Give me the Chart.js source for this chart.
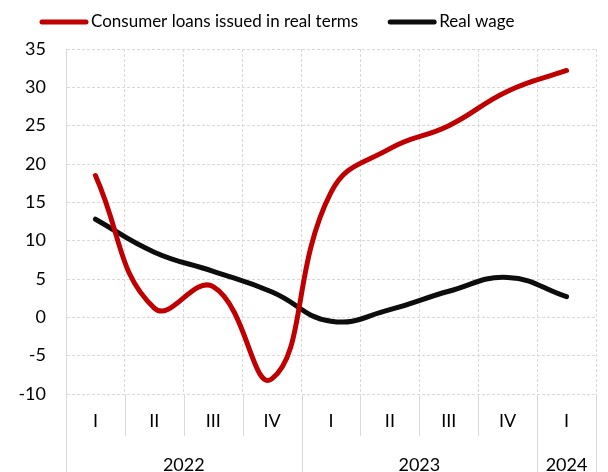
<!DOCTYPE html>
<html>
<head>
<meta charset="utf-8">
<script src="https://cdn.jsdelivr.net/npm/chart.js@4.4.1/dist/chart.umd.min.js"></script>
<style>
  html, body { margin: 0; padding: 0; background: #ffffff; }
  #wrap { width: 608px; height: 472px; }
</style>
</head>
<body>
<div id="wrap"><canvas id="chart" width="608" height="472"></canvas></div>
<script>
// Quarter labels and the year each quarter belongs to
const quarters = ['I', 'II', 'III', 'IV', 'I', 'II', 'III', 'IV', 'I'];
const years = ['2022', '2022', '2022', '2022', '2023', '2023', '2023', '2023', '2024'];

// Year-on-year change, %
const consumerLoans = [18.5, 1.2, 4.0, -8.0, 16.3, 22.0, 25.0, 29.5, 32.2];
const realWage = [12.8, 8.5, 6.0, 3.3, -0.5, 1.0, 3.4, 5.2, 2.7];

const seriesNames = ['Consumer loans issued in real terms', 'Real wage'];
const seriesColors = ['#c00000', '#0d0d0d'];

const FONT = 'Lato, "Liberation Sans", sans-serif';
const GRID = '#d9d9d9';

// Legend row drawn above the plot
const legendRow = {
  id: 'legendRow',
  afterDraw(chart) {
    const ctx = chart.ctx;
    ctx.save();
    ctx.font = '17px ' + FONT;
    ctx.textBaseline = 'middle';
    ctx.lineCap = 'round';
    ctx.lineWidth = 5;
    const y = 22;
    let x = 42;
    chart.data.datasets.forEach((ds) => {
      ctx.strokeStyle = ds.borderColor;
      ctx.beginPath();
      ctx.moveTo(x, y);
      ctx.lineTo(x + 44, y);
      ctx.stroke();
      ctx.fillStyle = '#000';
      ctx.fillText(ds.label, x + 49, y);
      x += 49 + ctx.measureText(ds.label).width + 32;
    });
    ctx.restore();
  }
};

// Quarter dividers below the plot and the year row
const yearRow = {
  id: 'yearRow',
  afterDraw(chart) {
    const xs = chart.scales.x;
    const area = chart.chartArea;
    const ctx = chart.ctx;
    const half = (xs.getPixelForValue(1) - xs.getPixelForValue(0)) / 2;
    ctx.save();
    ctx.strokeStyle = GRID;
    ctx.lineWidth = 1;
    for (let i = 0; i <= quarters.length; i++) {
      const x = Math.round(xs.getPixelForValue(i) - half) + 0.5;
      const yearEdge = i === 0 || i === quarters.length || years[i] !== years[i - 1];
      ctx.beginPath();
      ctx.moveTo(x, area.bottom);
      ctx.lineTo(x, yearEdge ? chart.height : area.bottom + 42);
      ctx.stroke();
    }
    ctx.fillStyle = '#000';
    ctx.font = '18px ' + FONT;
    ctx.textAlign = 'center';
    ctx.textBaseline = 'alphabetic';
    let start = 0;
    for (let i = 1; i <= years.length; i++) {
      if (i === years.length || years[i] !== years[start]) {
        const x0 = xs.getPixelForValue(start) - half;
        const x1 = xs.getPixelForValue(i - 1) + half;
        ctx.fillText(years[start], (x0 + x1) / 2, 471);
        start = i;
      }
    }
    ctx.restore();
  }
};

new Chart(document.getElementById('chart'), {
  type: 'line',
  data: {
    labels: quarters,
    datasets: [
      {
        label: seriesNames[0],
        data: consumerLoans,
        borderColor: seriesColors[0],
        backgroundColor: seriesColors[0],
        borderWidth: 5,
        borderCapStyle: 'round',
        pointRadius: 0,
        tension: 0.45
      },
      {
        label: seriesNames[1],
        data: realWage,
        borderColor: seriesColors[1],
        backgroundColor: seriesColors[1],
        borderWidth: 5,
        borderCapStyle: 'round',
        pointRadius: 0,
        tension: 0.45
      }
    ]
  },
  options: {
    responsive: false,
    animation: false,
    layout: { padding: { top: 49, right: 12, left: 0, bottom: 0 } },
    plugins: {
      legend: { display: false },
      tooltip: { enabled: false }
    },
    scales: {
      x: {
        offset: true,
        afterFit(s) { s.height = 78; },
        grid: {
          offset: true,
          color: GRID,
          lineWidth: 1,
          drawTicks: false
        },
        // border.dash styles the grid lines; the x border itself stays hidden
        border: { display: false, dash: [3, 2] },
        ticks: {
          color: '#000',
          font: { family: FONT, size: 18 },
          padding: 16,
          maxRotation: 0,
          autoSkip: false
        }
      },
      y: {
        min: -10,
        max: 35,
        afterFit(s) { s.width = 66; },
        grid: {
          color: GRID,
          lineWidth: 1,
          drawTicks: false
        },
        border: { display: true, color: GRID, width: 1, dash: [3, 2] },
        ticks: {
          stepSize: 5,
          color: '#000',
          font: { family: FONT, size: 18 },
          padding: 20
        }
      }
    }
  },
  plugins: [legendRow, yearRow]
});
</script>
</body>
</html>
